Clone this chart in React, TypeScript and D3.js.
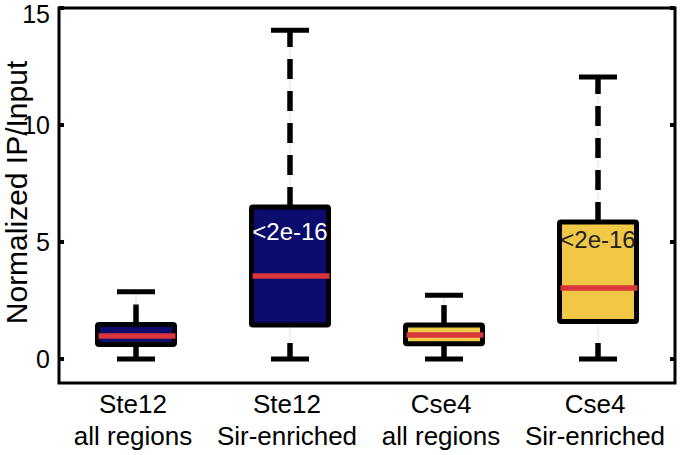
import React from "react";
import * as d3 from "d3";

const categories = ["Ste12|all regions", "Ste12|Sir-enriched", "Cse4|all regions", "Cse4|Sir-enriched"];
const lowerWhisker = [0, 0, 0, 0];
const q1Values = [0.62, 1.45, 0.65, 1.6];
const medianValues = [0.98, 3.55, 1.03, 3.03];
const q3Values = [1.47, 6.5, 1.45, 5.85];
const upperWhisker = [2.87, 14.05, 2.73, 12.05];
const fillColors = ["#0b0c6c", "#0b0c6c", "#f1c846", "#f1c846"];
const pLabels = ["", "<2e-16", "", "<2e-16"];
const pLabelValues = [0, 5.45, 0, 5.1];
const pLabelColors = ["#fff", "#fff", "#222", "#222"];
const yTicks = [0, 5, 10, 15];

const W = 680;
const H = 455;
const left = 59;
const right = 675;
const top = 8;
const bottom = 383;

export default function App() {
  const x = d3.scaleBand<string>().domain(categories).range([left, right]).padding(0);
  const y = d3.scaleLinear().domain([-1.025, 15]).range([bottom, top]);
  const bw = 77;
  const capW = 38;
  const font = "'Liberation Sans', Arial, Helvetica, sans-serif";

  return (
    <svg width={W} height={H} style={{ position: "absolute", left: 0, top: 0, background: "#fff" }} fontFamily={font}>
      {categories.map((c, i) => {
        const cx = (x(c) ?? 0) + x.bandwidth() / 2;
        const yq1 = y(q1Values[i]);
        const yq3 = y(q3Values[i]);
        const ymed = y(medianValues[i]);
        const ylo = y(lowerWhisker[i]);
        const yhi = y(upperWhisker[i]);
        return (
          <g key={c}>
            <line x1={cx} x2={cx} y1={yhi} y2={yq3} stroke="#e2e2e2" strokeWidth={1} />
            <line x1={cx} x2={cx} y1={ylo} y2={yq1} stroke="#e2e2e2" strokeWidth={1} />
            <line x1={cx} x2={cx} y1={yq3} y2={yhi} stroke="#000" strokeWidth={5.5} strokeDasharray="20,12" />
            <line x1={cx} x2={cx} y1={ylo} y2={yq1} stroke="#000" strokeWidth={5.5} strokeDasharray="16,40" />
            <line x1={cx - capW / 2} x2={cx + capW / 2} y1={yhi} y2={yhi} stroke="#000" strokeWidth={5} />
            <line x1={cx - capW / 2} x2={cx + capW / 2} y1={ylo} y2={ylo} stroke="#000" strokeWidth={5} />
            <rect
              x={cx - bw / 2}
              y={yq3}
              width={bw}
              height={yq1 - yq3}
              fill={fillColors[i]}
              stroke="#000"
              strokeWidth={5}
              strokeLinejoin="round"
              rx={1.5}
            />
            <line x1={cx - bw / 2 + 1} x2={cx + bw / 2 + 1} y1={ymed} y2={ymed} stroke="#d8363b" strokeWidth={5.5} />
            {pLabels[i] && (
              <text
                x={cx}
                y={y(pLabelValues[i])}
                textAnchor="middle"
                dominantBaseline="central"
                fontSize={24}
                fill={pLabelColors[i]}
              >
                {pLabels[i]}
              </text>
            )}
            <text x={cx - 3} y={413} textAnchor="middle" fontSize={26} fill="#000">
              {c.split("|")[0]}
            </text>
            <text x={cx - 3} y={445} textAnchor="middle" fontSize={26} fill="#000">
              {c.split("|")[1]}
            </text>
          </g>
        );
      })}
      <rect x={left} y={top} width={right - left} height={bottom - top} fill="none" stroke="#000" strokeWidth={3} />
      {yTicks.map((t) => (
        <g key={t}>
          <line x1={left} x2={left + 5} y1={y(t)} y2={y(t)} stroke="#000" strokeWidth={4} />
          <line x1={right - 5} x2={right} y1={y(t)} y2={y(t)} stroke="#000" strokeWidth={4} />
          <text
            x={50}
            y={Math.max(y(t), 14)}
            textAnchor="end"
            dominantBaseline="central"
            fontSize={25}
            fill="#000"
          >
            {t}
          </text>
        </g>
      ))}
      <text
        transform={`translate(27,${(top + bottom) / 2 - 3}) rotate(-90)`}
        textAnchor="middle"
        fontSize={30}
        fill="#000"
      >
        Normalized IP/Input
      </text>
    </svg>
  );
}
